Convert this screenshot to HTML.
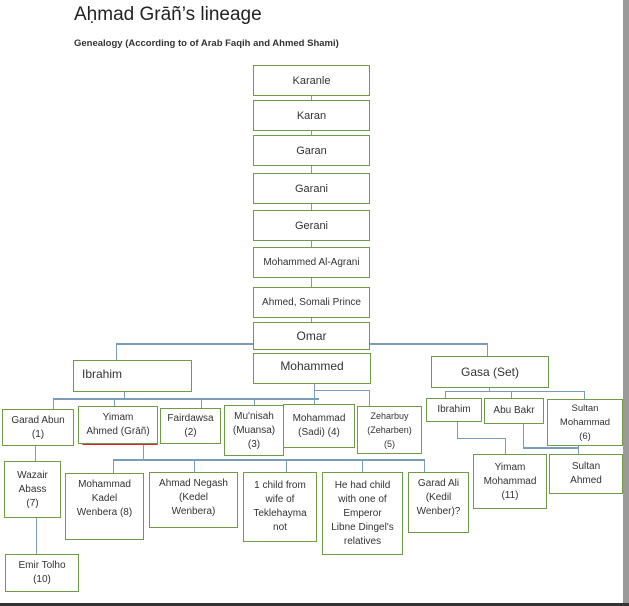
<!DOCTYPE html><html><head><style>
body{margin:0;width:629px;height:606px;background:#fff;position:relative;overflow:hidden;font-family:"Liberation Sans",sans-serif}
.b{position:absolute;border:1px solid #6f9a4a;background:#fff;box-sizing:border-box;display:flex;align-items:center;justify-content:center;text-align:center;font-size:10px;line-height:14px;color:#333}
.l{position:absolute;background:#7a9cb8}
</style></head><body>
<div style="position:absolute;left:74px;top:4px;font-size:19px;color:#222">Aḥmad Grāñ’s lineage</div>
<div style="position:absolute;left:74px;top:38px;font-size:9.5px;font-weight:bold;color:#333">Genealogy (According to of Arab Faqih and Ahmed Shami)</div>
<div style="position:absolute;right:0;top:0;width:6px;height:606px;background:#9a9a9a"></div>
<div style="position:absolute;left:0;bottom:0;width:629px;height:3px;background:#333"></div>
<!-- lines -->
<div class="l" style="left:311px;top:95px;width:1px;height:232px"></div>
<div class="l" style="left:116px;top:343px;width:372px;height:2px"></div>
<div class="l" style="left:116px;top:343px;width:1px;height:17px"></div>
<div class="l" style="left:487px;top:343px;width:1px;height:14px"></div>
<div class="l" style="left:124px;top:391px;width:1px;height:8px"></div>
<div class="l" style="left:53px;top:398px;width:266px;height:2px"></div>
<div class="l" style="left:53px;top:398px;width:1px;height:11px"></div>
<div class="l" style="left:114px;top:398px;width:1px;height:8px"></div>
<div class="l" style="left:201px;top:398px;width:1px;height:10px"></div>
<div class="l" style="left:254px;top:398px;width:1px;height:7px"></div>
<div class="l" style="left:314px;top:383px;width:1px;height:21px"></div>
<div class="l" style="left:314px;top:390px;width:56px;height:1px"></div>
<div class="l" style="left:369px;top:390px;width:1px;height:16px"></div>
<div class="l" style="left:489px;top:387px;width:1px;height:5px"></div>
<div class="l" style="left:445px;top:391px;width:140px;height:1px"></div>
<div class="l" style="left:445px;top:391px;width:1px;height:7px"></div>
<div class="l" style="left:511px;top:391px;width:1px;height:7px"></div>
<div class="l" style="left:584px;top:391px;width:1px;height:8px"></div>
<div class="l" style="left:35px;top:445px;width:1px;height:16px"></div>
<div class="l" style="left:36px;top:517px;width:1px;height:37px"></div>
<div class="l" style="left:143px;top:443px;width:1px;height:17px"></div>
<div class="l" style="left:113px;top:459px;width:312px;height:2px"></div>
<div class="l" style="left:113px;top:459px;width:1px;height:14px"></div>
<div class="l" style="left:194px;top:459px;width:1px;height:13px"></div>
<div class="l" style="left:286px;top:459px;width:1px;height:13px"></div>
<div class="l" style="left:362px;top:459px;width:1px;height:13px"></div>
<div class="l" style="left:424px;top:459px;width:1px;height:13px"></div>
<div class="l" style="left:457px;top:421px;width:1px;height:18px"></div>
<div class="l" style="left:457px;top:438px;width:49px;height:1px"></div>
<div class="l" style="left:505px;top:438px;width:1px;height:16px"></div>
<div class="l" style="left:523px;top:423px;width:1px;height:25px"></div>
<div class="l" style="left:523px;top:447px;width:56px;height:2px"></div>
<div class="l" style="left:578px;top:445px;width:1px;height:9px"></div>
<div style="position:absolute;left:82px;top:442px;width:76px;height:3px;background:#e02020;border-radius:2px"></div>
<!-- boxes -->
<div class="b" style="left:253px;top:65px;width:117px;height:31px;font-size:11px">Karanle</div>
<div class="b" style="left:253px;top:100px;width:117px;height:31px;font-size:11px">Karan</div>
<div class="b" style="left:253px;top:135px;width:117px;height:31px;font-size:11px">Garan</div>
<div class="b" style="left:253px;top:173px;width:117px;height:31px;font-size:11px">Garani</div>
<div class="b" style="left:253px;top:210px;width:117px;height:31px;font-size:11px">Gerani</div>
<div class="b" style="left:253px;top:247px;width:117px;height:31px">Mohammed Al-Agrani</div>
<div class="b" style="left:253px;top:287px;width:117px;height:31px">Ahmed, Somali Prince</div>
<div class="b" style="left:253px;top:322px;width:117px;height:28px;font-size:12px">Omar</div>
<div class="b" style="left:73px;top:360px;width:119px;height:32px;font-size:12px;justify-content:flex-start;padding-left:8px;align-items:flex-start;padding-top:6px">Ibrahim</div>
<div class="b" style="left:253px;top:353px;width:118px;height:31px;font-size:12px;align-items:flex-start;padding-top:5px">Mohammed</div>
<div class="b" style="left:431px;top:356px;width:118px;height:32px;font-size:12px">Gasa (Set)</div>
<div class="b" style="left:2px;top:409px;width:72px;height:37px">Garad Abun<br>(1)</div>
<div class="b" style="left:78px;top:406px;width:80px;height:38px">Yimam<br>Ahmed (Grāñ)</div>
<div class="b" style="left:160px;top:408px;width:61px;height:36px">Fairdawsa<br>(2)</div>
<div class="b" style="left:224px;top:405px;width:60px;height:51px">Mu'nisah<br>(Muansa)<br>(3)</div>
<div class="b" style="left:283px;top:404px;width:72px;height:44px">Mohammad<br>(Sadi) (4)</div>
<div class="b" style="left:357px;top:406px;width:65px;height:48px;font-size:9px">Zeharbuy<br>(Zeharben)<br>(5)</div>
<div class="b" style="left:426px;top:398px;width:56px;height:24px">Ibrahim</div>
<div class="b" style="left:484px;top:398px;width:60px;height:26px">Abu Bakr</div>
<div class="b" style="left:547px;top:399px;width:76px;height:47px;font-size:9.5px">Sultan<br>Mohammad<br>(6)</div>
<div class="b" style="left:4px;top:461px;width:57px;height:57px">Wazair<br>Abass<br>(7)</div>
<div class="b" style="left:65px;top:473px;width:79px;height:67px;align-items:flex-start;padding-top:4px">Mohammad<br>Kadel<br>Wenbera (8)</div>
<div class="b" style="left:149px;top:472px;width:89px;height:56px;align-items:flex-start;padding-top:4px">Ahmad Negash<br>(Kedel<br>Wenbera)</div>
<div class="b" style="left:243px;top:472px;width:74px;height:70px">1 child from<br>wife of<br>Teklehayma<br>not</div>
<div class="b" style="left:322px;top:472px;width:81px;height:83px">He had child<br>with one of<br>Emperor<br>Libne Dingel's<br>relatives</div>
<div class="b" style="left:408px;top:472px;width:61px;height:61px;align-items:flex-start;padding-top:4px">Garad Ali<br>(Kedil<br>Wenber)?</div>
<div class="b" style="left:473px;top:454px;width:74px;height:55px">Yimam<br>Mohammad<br>(11)</div>
<div class="b" style="left:549px;top:454px;width:74px;height:40px">Sultan<br>Ahmed</div>
<div class="b" style="left:5px;top:554px;width:74px;height:38px">Emir Tolho<br>(10)</div>
</body></html>
